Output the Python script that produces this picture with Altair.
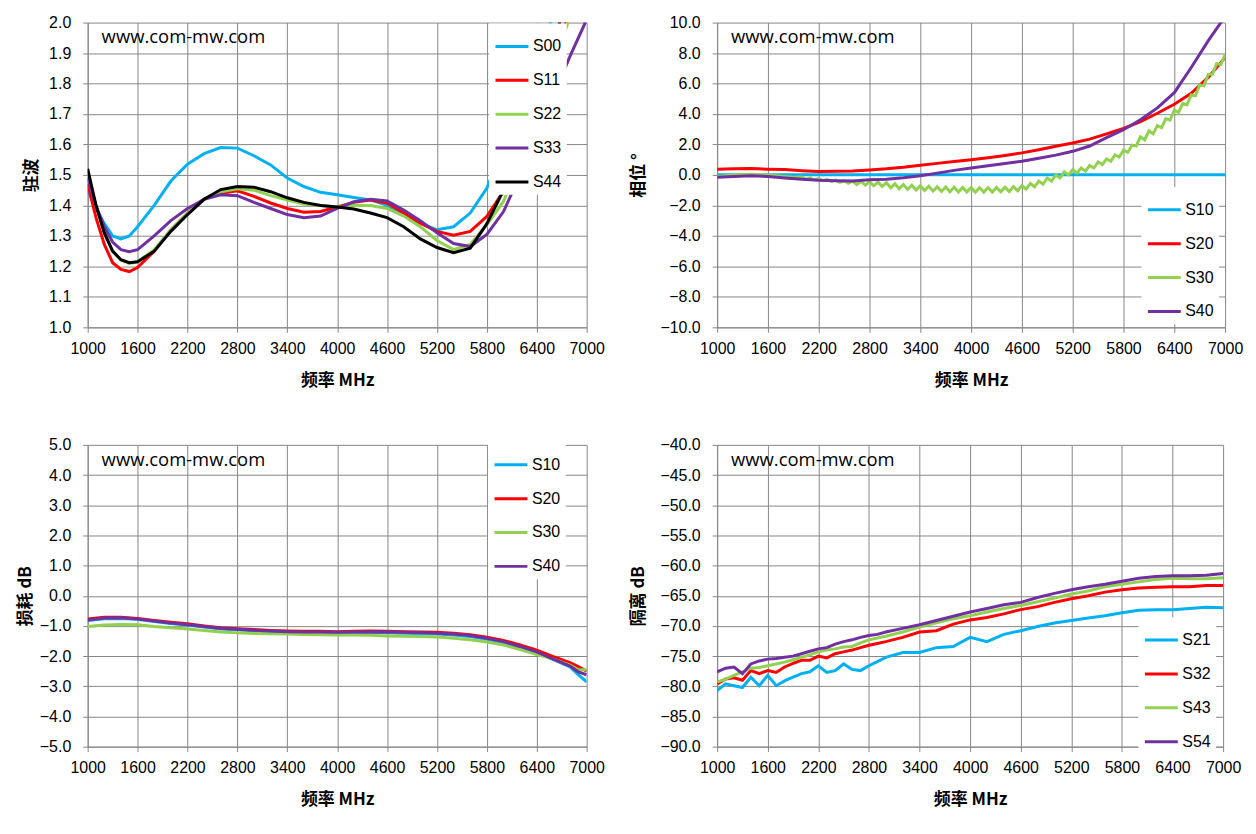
import altair as alt
import pandas as pd

# ---------------- shared ----------------
X_TICKS = [1000, 1600, 2200, 2800, 3400, 4000, 4600, 5200, 5800, 6400, 7000]
X_TITLE = "频率  MHz"
WATERMARK = "www.com-mw.com"

CYAN = "#00B0F0"
RED = "#FF0000"
GREEN = "#92D050"
PURPLE = "#7030A0"
BLACK = "#000000"

# ---------------- panel A : VSWR ----------------
A_FREQ = [1000, 1100, 1200, 1300, 1400, 1500, 1600, 1800, 2000, 2200, 2400, 2600, 2800,
          3000, 3200, 3400, 3600, 3800, 4000, 4200, 4400, 4600, 4800, 5000, 5200, 5400,
          5600, 5800, 6000, 6200, 6400, 6600, 6800, 7000]
A_NAMES = ["S00", "S11", "S22", "S33", "S44"]
A_S00 = [1.45, 1.39, 1.34, 1.30, 1.29, 1.30, 1.33, 1.40, 1.48, 1.535, 1.57, 1.59, 1.588,
         1.563, 1.533, 1.49, 1.462, 1.443, 1.435, 1.426, 1.418, 1.40, 1.37, 1.342, 1.32, 1.33,
         1.375, 1.457, 1.59, 1.72, 1.86, 2.03, 2.2, 2.4]
A_S11 = [1.47, 1.36, 1.272, 1.212, 1.19, 1.183, 1.196, 1.25, 1.32, 1.375, 1.422, 1.44, 1.448,
         1.43, 1.408, 1.39, 1.378, 1.38, 1.395, 1.41, 1.418, 1.408, 1.375, 1.342, 1.315, 1.302,
         1.315, 1.364, 1.446, 1.58, 1.73, 1.88, 2.04, 2.2]
A_S22 = [1.50, 1.40, 1.31, 1.25, 1.22, 1.21, 1.215, 1.255, 1.32, 1.375, 1.42, 1.445, 1.455,
         1.45, 1.432, 1.418, 1.405, 1.40, 1.395, 1.40, 1.40, 1.39, 1.365, 1.33, 1.285, 1.255,
         1.272, 1.337, 1.413, 1.55, 1.70, 1.86, 2.02, 2.18]
A_S33 = [1.49, 1.40, 1.33, 1.28, 1.255, 1.248, 1.255, 1.30, 1.35, 1.39, 1.42, 1.435, 1.432,
         1.41, 1.39, 1.37, 1.36, 1.365, 1.39, 1.412, 1.42, 1.415, 1.385, 1.35, 1.31, 1.275,
         1.265, 1.305, 1.38, 1.50, 1.63, 1.76, 1.89, 2.01]
A_S44 = [1.52, 1.40, 1.31, 1.25, 1.222, 1.212, 1.215, 1.25, 1.315, 1.37, 1.42, 1.452, 1.462,
         1.46, 1.445, 1.425, 1.41, 1.40, 1.395, 1.388, 1.375, 1.36, 1.33, 1.29, 1.262, 1.245,
         1.26, 1.34, 1.45, 1.60, 1.77, 1.94, 2.1, 2.3]
A_YTICKS = [1.0, 1.1, 1.2, 1.3, 1.4, 1.5, 1.6, 1.7, 1.8, 1.9, 2.0]

# ---------------- panel B : phase ----------------
B_FREQ = list(range(1000, 7001, 200))
B_S30_FREQ = list(range(1000, 2000, 100)) + list(range(2000, 7001, 50))
B_NAMES = ["S10", "S20", "S30", "S40"]
B_S10 = [0.02, 0.02, 0.02, 0.02, 0.02, 0.02, 0.02, 0.02, 0.02, 0.02, 0.02, 0.02, 0.02, 0.02,
         0.02, 0.02, 0.02, 0.02, 0.02, 0.02, 0.02, 0.02, 0.02, 0.02, 0.02, 0.02, 0.02, 0.02,
         0.02, 0.02, 0.02]
B_S20 = [0.37, 0.40, 0.42, 0.38, 0.36, 0.28, 0.22, 0.24, 0.26, 0.33, 0.40, 0.50, 0.64, 0.76,
         0.88, 1.00, 1.13, 1.28, 1.45, 1.65, 1.88, 2.10, 2.35, 2.70, 3.05, 3.50, 4.05, 4.64,
         5.36, 6.40, 7.70]
B_S40 = [-0.15, -0.10, -0.05, -0.10, -0.20, -0.28, -0.35, -0.38, -0.40, -0.32, -0.28, -0.18,
         -0.05, 0.12, 0.30, 0.45, 0.60, 0.75, 0.90, 1.10, 1.30, 1.55, 1.90, 2.45, 2.97, 3.62,
         4.40, 5.40, 7.05, 8.80, 10.40]
B_S30 = [-0.10, -0.05, 0.00, 0.03, 0.05, 0.03, 0.00, -0.05, -0.10, -0.15,
         -0.14, -0.28, -0.19, -0.33, -0.24, -0.38, -0.29, -0.43, -0.34, -0.48,
         -0.38, -0.55, -0.40, -0.63, -0.42, -0.67, -0.45, -0.71, -0.47, -0.75,
         -0.51, -0.84, -0.58, -0.91, -0.63, -0.95, -0.67, -0.99, -0.71, -1.03,
         -0.74, -1.06, -0.77, -1.08, -0.79, -1.10, -0.81, -1.12, -0.82, -1.12,
         -0.82, -1.13, -0.83, -1.14, -0.83, -1.12, -0.82, -1.11, -0.80, -1.09,
         -0.77, -1.04, -0.70, -0.93, -0.55, -0.78, -0.40, -0.60, -0.20, -0.40,
         0.00, -0.20, 0.20, 0.00, 0.35, 0.12, 0.45, 0.25, 0.62, 0.45,
         0.85, 0.68, 1.05, 0.90, 1.32, 1.18, 1.62, 1.48, 1.95, 1.90,
         2.50, 2.30, 2.90, 2.70, 3.25, 3.10, 3.70, 3.60, 4.25, 4.10,
         4.70, 4.60, 5.25, 5.20, 5.90, 5.85, 6.60, 6.60, 7.30, 7.25,
         7.90]
B_YTICKS = [-10.0, -8.0, -6.0, -4.0, -2.0, 0.0, 2.0, 4.0, 6.0, 8.0, 10.0]

# ---------------- panel C : insertion loss ----------------
C_FREQ = list(range(1000, 6801, 200)) + [6900, 7000]
C_NAMES = ["S10", "S20", "S30", "S40"]
C_S10 = [-0.82, -0.76, -0.75, -0.78, -0.85, -0.92, -0.97, -1.04, -1.10, -1.13, -1.16, -1.19,
         -1.21, -1.22, -1.22, -1.23, -1.22, -1.22, -1.23, -1.24, -1.25, -1.27, -1.30, -1.35,
         -1.44, -1.55, -1.70, -1.88, -2.12, -2.36, -2.62, -2.85]
C_S20 = [-0.77, -0.71, -0.71, -0.75, -0.82, -0.88, -0.93, -1.00, -1.06, -1.09, -1.12, -1.15,
         -1.17, -1.18, -1.18, -1.19, -1.18, -1.17, -1.18, -1.19, -1.20, -1.21, -1.24, -1.29,
         -1.37, -1.48, -1.63, -1.80, -2.02, -2.22, -2.35, -2.50]
C_S30 = [-1.02, -0.97, -0.95, -0.96, -1.02, -1.06, -1.10, -1.15, -1.20, -1.23, -1.25, -1.26,
         -1.27, -1.28, -1.29, -1.30, -1.30, -1.31, -1.33, -1.34, -1.35, -1.37, -1.41, -1.46,
         -1.53, -1.63, -1.78, -1.95, -2.10, -2.30, -2.45, -2.45]
C_S40 = [-0.80, -0.74, -0.73, -0.77, -0.84, -0.90, -0.95, -1.02, -1.08, -1.11, -1.14, -1.17,
         -1.19, -1.20, -1.20, -1.21, -1.20, -1.19, -1.20, -1.21, -1.22, -1.24, -1.27, -1.32,
         -1.41, -1.52, -1.68, -1.86, -2.10, -2.33, -2.52, -2.62]
C_YTICKS = [-5.0, -4.0, -3.0, -2.0, -1.0, 0.0, 1.0, 2.0, 3.0, 4.0, 5.0]

# ---------------- panel D : isolation ----------------
D_FREQ = list(range(1000, 3001, 100)) + list(range(3200, 7001, 200))
D_NAMES = ["S21", "S32", "S43", "S54"]
D_S21 = [-80.7, -79.6, -79.9, -80.2, -78.5, -79.9, -78.2, -79.9, -79.1, -78.5, -77.9, -77.6,
         -76.6, -77.7, -77.4, -76.3, -77.2, -77.4, -76.6, -75.9, -75.2,
         -74.4, -74.4, -73.6, -73.4, -71.9, -72.6, -71.4, -70.8, -70.1, -69.5, -69.1, -68.7,
         -68.3, -67.8, -67.4, -67.3, -67.3, -67.1, -66.9, -67.0]
D_S32 = [-79.6, -78.8, -78.6, -79.0, -77.4, -77.9, -77.4, -77.7, -76.8, -76.2, -75.7, -75.7,
         -75.0, -75.3, -74.6, -74.3, -74.0, -73.6, -73.2, -72.9, -72.6,
         -71.9, -71.0, -70.8, -69.7, -69.0, -68.6, -68.0, -67.3, -66.8, -66.1, -65.5, -65.0,
         -64.4, -64.0, -63.7, -63.6, -63.5, -63.5, -63.3, -63.3]
D_S43 = [-79.3, -78.8, -78.2, -77.6, -77.0, -76.9, -76.6, -76.3, -76.0, -75.6, -75.2, -74.8,
         -74.3, -74.0, -73.8, -73.5, -73.4, -72.8, -72.3, -72.0, -71.7,
         -71.0, -70.2, -69.5, -68.8, -68.3, -67.7, -67.1, -66.6, -66.0, -65.4, -64.7, -64.2,
         -63.5, -63.1, -62.7, -62.3, -62.1, -62.2, -62.2, -62.0]
D_S54 = [-77.6, -77.0, -76.8, -77.9, -76.3, -75.8, -75.5, -75.4, -75.2, -75.0, -74.6, -74.2,
         -73.8, -73.6, -73.0, -72.6, -72.3, -71.9, -71.6, -71.4, -71.0,
         -70.4, -69.8, -69.1, -68.4, -67.7, -67.1, -66.5, -66.1, -65.3, -64.6, -64.0, -63.5,
         -63.1, -62.6, -62.1, -61.8, -61.7, -61.7, -61.6, -61.3]
D_YTICKS = [-90.0, -85.0, -80.0, -75.0, -70.0, -65.0, -60.0, -55.0, -50.0, -45.0, -40.0]

LABEL_FONT = "Liberation Sans, Arial, sans-serif"
TITLE_FONT = "Noto Sans CJK SC"


def panel(series, names, colors, ydom, yticks, ytitle, ytitle_pad, leg_x, leg_y, w, h):
    rows = []
    for name in names:
        fr, vals = series[name]
        for f, v in zip(fr, vals):
            rows.append({"f": f, "v": v, "s": name})
    df = pd.DataFrame(rows)
    lines = alt.Chart(df).mark_line(strokeWidth=3, clip=True).encode(
        x=alt.X("f:Q", scale=alt.Scale(domain=[1000, 7000], nice=False, zero=False),
                axis=alt.Axis(values=X_TICKS, format="d", title=X_TITLE)),
        y=alt.Y("v:Q", scale=alt.Scale(domain=ydom, nice=False, zero=False),
                axis=alt.Axis(values=yticks, format=".1f", title=ytitle,
                              titlePadding=ytitle_pad)),
        color=alt.Color("s:N", scale=alt.Scale(domain=names, range=colors),
                        sort=names,
                        legend=alt.Legend(orient="none", legendX=leg_x, legendY=leg_y,
                                          title=None)),
    )
    wm = alt.Chart(pd.DataFrame({"t": [WATERMARK]})).mark_text(
        align="left", baseline="middle", font="Open Sans", fontSize=18.5, color="black"
    ).encode(text="t:N", x=alt.value(14), y=alt.value(15))
    return alt.layer(lines, wm).properties(width=w, height=h)


pA = panel({"S00": (A_FREQ, A_S00), "S11": (A_FREQ, A_S11), "S22": (A_FREQ, A_S22),
            "S33": (A_FREQ, A_S33), "S44": (A_FREQ, A_S44)},
           A_NAMES, [CYAN, RED, GREEN, PURPLE, BLACK], [1.0, 2.0], A_YTICKS,
           "驻波", 8, 403, 1, 501, 306)
pB = panel({"S10": (B_FREQ, B_S10), "S20": (B_FREQ, B_S20), "S30": (B_S30_FREQ, B_S30),
            "S40": (B_FREQ, B_S40)},
           B_NAMES, [CYAN, RED, GREEN, PURPLE], [-10.0, 10.0], B_YTICKS,
           "相位 °", 12, 426, 165, 510, 306)
pC = panel({"S10": (C_FREQ, C_S10), "S20": (C_FREQ, C_S20), "S30": (C_FREQ, C_S30),
            "S40": (C_FREQ, C_S40)},
           C_NAMES, [CYAN, RED, GREEN, PURPLE], [-5.0, 5.0], C_YTICKS,
           "损耗 dB", 5, 402, -3, 501, 303)
pD = panel({"S21": (D_FREQ, D_S21), "S32": (D_FREQ, D_S32), "S43": (D_FREQ, D_S43),
            "S54": (D_FREQ, D_S54)},
           D_NAMES, [CYAN, RED, GREEN, PURPLE], [-90.0, -40.0], D_YTICKS,
           "隔离 dB", 12, 423, 173, 508, 303)

top = alt.hconcat(pA, pB, spacing=25).resolve_scale(color="independent")
bottom = alt.hconcat(pC, pD, spacing=25).resolve_scale(color="independent")

chart = (
    alt.vconcat(top, bottom, spacing=49)
    .resolve_scale(color="independent")
    .properties(padding={"left": 8, "top": 5, "right": 5, "bottom": 5}, background="white")
    .configure_view(stroke=None)
    .configure_axis(
        gridColor="#868686", gridWidth=1, domainColor="#868686", domainWidth=1,
        tickColor="#868686", tickSize=5, labelFont=LABEL_FONT, labelFontSize=16,
        labelColor="#000000", titleFont=TITLE_FONT, titleFontSize=17,
        titleFontWeight="bold", titleColor="#000000",
    )
    .configure_axisX(labelPadding=8, titlePadding=16, labelFlush=False)
    .configure_axisY(labelPadding=12)
    .configure_legend(
        labelFont=LABEL_FONT, labelFontSize=16, labelColor="#000000",
        symbolType="stroke", symbolStrokeWidth=3, symbolSize=1089,
        rowPadding=8, padding=5, fillColor="white", labelOffset=3,
    )
)

chart.save("out.html", embed_options={"renderer": "svg", "actions": False})
